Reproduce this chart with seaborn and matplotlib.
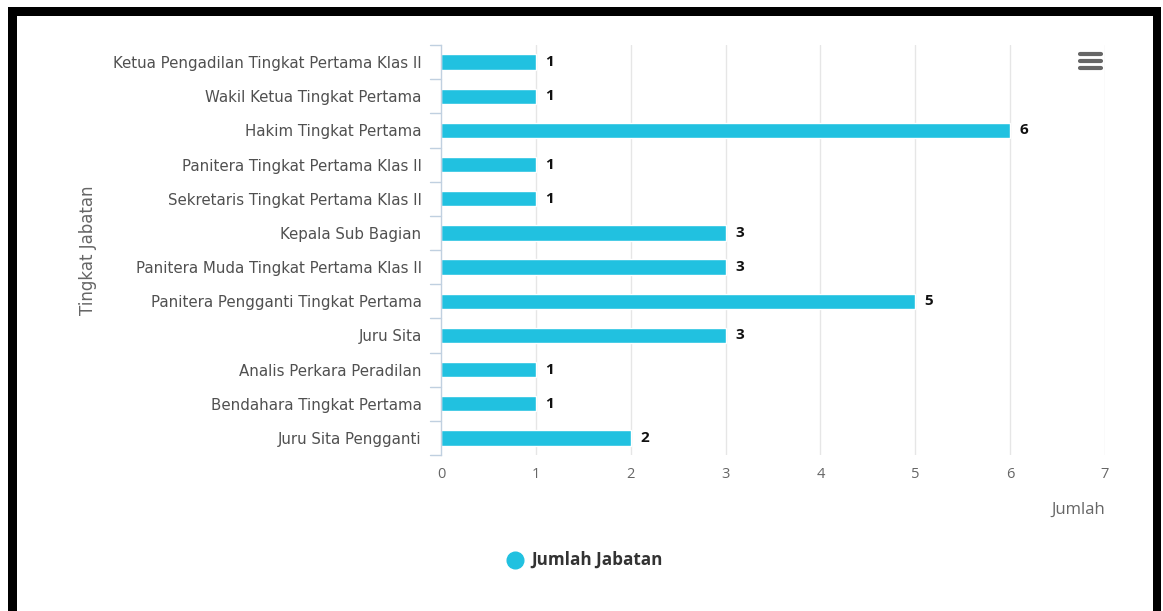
import pandas as pd
import seaborn as sns
import matplotlib.pyplot as plt
from matplotlib.patches import Rectangle
from matplotlib.lines import Line2D

# Data
jabatan = [
    'Ketua Pengadilan Tingkat Pertama Klas II',
    'Wakil Ketua Tingkat Pertama',
    'Hakim Tingkat Pertama',
    'Panitera Tingkat Pertama Klas II',
    'Sekretaris Tingkat Pertama Klas II',
    'Kepala Sub Bagian',
    'Panitera Muda Tingkat Pertama Klas II',
    'Panitera Pengganti Tingkat Pertama',
    'Juru Sita',
    'Analis Perkara Peradilan',
    'Bendahara Tingkat Pertama',
    'Juru Sita Pengganti',
]
jumlah = [1, 1, 6, 1, 1, 3, 3, 5, 3, 1, 1, 2]
x_ticks = [0, 1, 2, 3, 4, 5, 6, 7]

df = pd.DataFrame({'Tingkat Jabatan': jabatan, 'Jumlah': jumlah})

sns.set_style('white')
plt.rcParams['font.family'] = ['Open Sans', 'DejaVu Sans']

bar_color = '#21c1e0'
W, H = 1163, 611

fig = plt.figure(figsize=(W / 100, H / 100), dpi=100)
ax = fig.add_axes([441 / W, 1 - 455 / H, 664 / W, 410 / H])

sns.barplot(data=df, y='Tingkat Jabatan', x='Jumlah', color=bar_color,
            width=0.45, saturation=1, orient='h', ax=ax)

ax.set_xlim(0, 7)
ax.set_ylim(len(jabatan) - 0.5, -0.5)
ax.set_xticks(x_ticks)
ax.set_xticklabels([str(t) for t in x_ticks], color='#666666', fontsize=10.5)
ax.tick_params(axis='x', length=0, pad=9)
ax.tick_params(axis='y', length=0, pad=14)
for lab in ax.get_yticklabels():
    lab.set_family('DejaVu Sans')
    lab.set_fontsize(10.8)
    lab.set_color('#505050')

# vertical grid
for t in x_ticks[1:]:
    ax.axvline(t, color='#e6e6e6', lw=1, zorder=0)

for s in ['top', 'right', 'bottom']:
    ax.spines[s].set_visible(False)
ax.spines['left'].set_color('#c0d0e0')
ax.spines['left'].set_linewidth(1)

# category tick marks between categories
for b in range(len(jabatan) + 1):
    ax.plot([-0.12, 0], [b - 0.5, b - 0.5], color='#c0d0e0', lw=1, clip_on=False)

# data labels
for i, v in enumerate(jumlah):
    ax.text(v + 0.1, i, str(v), va='center', ha='left', fontsize=11,
            fontweight='bold', color='#111111')

ax.set_ylabel('')
ax.set_xlabel('')
fig.text(1105 / W, 1 - 510 / H, 'Jumlah', ha='right', va='center',
         color='#666666', fontsize=12)
fig.text(88 / W, 1 - 250 / H, 'Tingkat Jabatan', rotation=90,
         ha='center', va='center', color='#666666', fontsize=12,
         family='DejaVu Sans')

# legend
fig.add_artist(Line2D([515 / W], [1 - 560 / H], marker='o', markersize=12,
                      color=bar_color, lw=0))
fig.text(531 / W, 1 - 560 / H, 'Jumlah Jabatan', ha='left', va='center',
         fontsize=12.3, fontweight='bold', color='#333333')

# menu icon
for yy in [54, 61, 68]:
    fig.add_artist(Line2D([1080 / W, 1101 / W], [1 - yy / H] * 2,
                          color='#666666', lw=3, solid_capstyle='round'))

# black frame
fig.add_artist(Rectangle((8 / W, 0), 9 / W, 1 - 7 / H,
                         transform=fig.transFigure, color='black', lw=0))
fig.add_artist(Rectangle((1153 / W, 0), 8 / W, 1 - 7 / H,
                         transform=fig.transFigure, color='black', lw=0))
fig.add_artist(Rectangle((8 / W, 1 - 16 / H), (1161 - 8) / W, 9 / H,
                         transform=fig.transFigure, color='black', lw=0))

fig.savefig('out.png', dpi=100)
